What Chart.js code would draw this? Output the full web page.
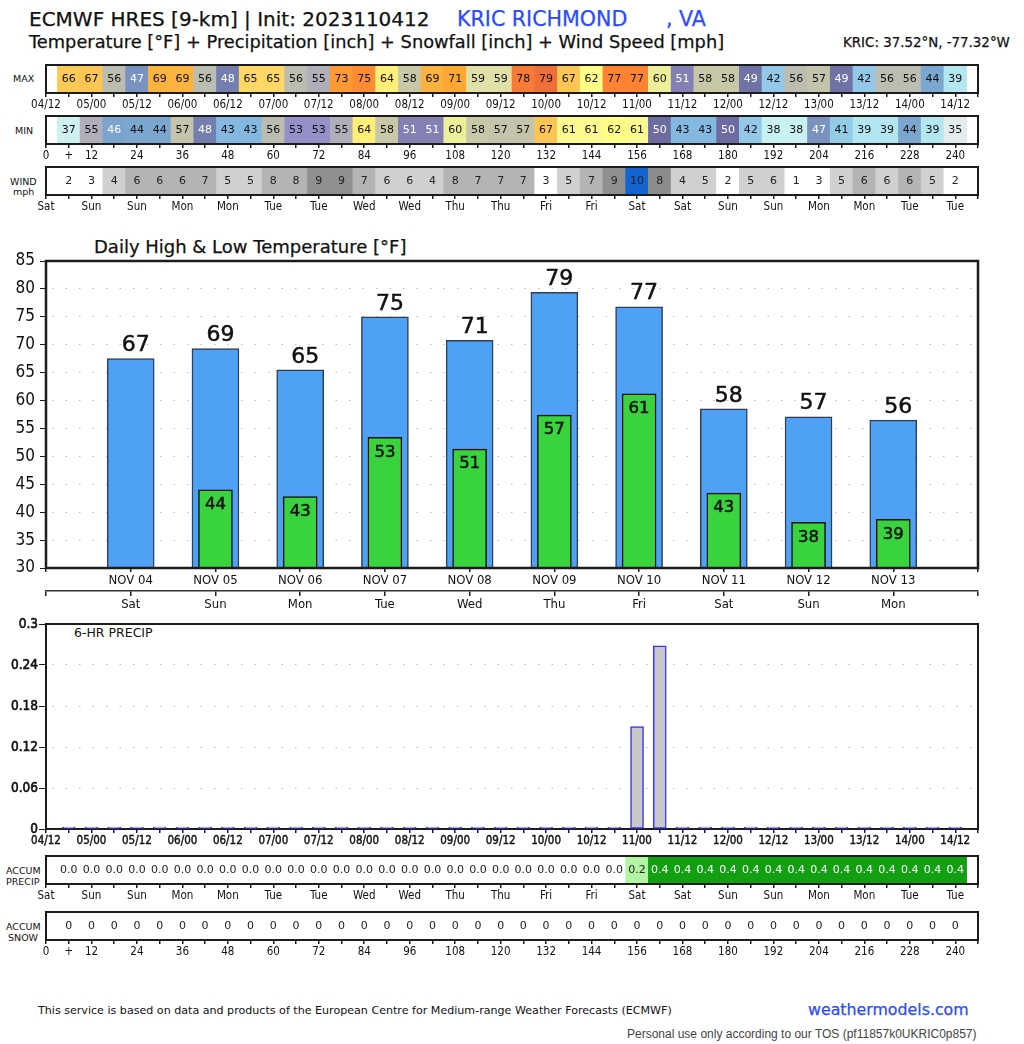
<!DOCTYPE html>
<html>
<head>
<meta charset="utf-8">
<title>ECMWF HRES KRIC</title>
<script src="https://cdn.jsdelivr.net/npm/chart.js@4"></script>
<style>
  html, body { margin: 0; padding: 0; background: #fff; }
  body { position: relative; width: 1024px; height: 1044px; overflow: hidden; font-family: "DejaVu Sans", sans-serif; color: #111; }
  canvas { position: absolute; left: 0; }
  .txt { position: absolute; white-space: pre; line-height: 1; -webkit-text-stroke: 0.25px currentColor; }
  .thin { -webkit-text-stroke: 0; }
  .blue { color: #2a4bff; }
</style>
</head>
<body>
<div class="txt" style="left:29px;top:9px;font-size:20px">ECMWF HRES [9-km] | Init: 2023110412</div>
<div class="txt blue" style="left:457px;top:9px;font-size:20.6px">KRIC RICHMOND</div>
<div class="txt blue" style="left:666px;top:9px;font-size:20.6px">, VA</div>
<div class="txt" style="left:29px;top:33px;font-size:17.8px">Temperature [°F] + Precipitation [inch] + Snowfall [inch] + Wind Speed [mph]</div>
<div class="txt" style="left:843px;top:36px;font-size:13.4px">KRIC: 37.52°N, -77.32°W</div>

<div class="txt thin" style="left:13px;top:74px;font-size:9.5px">MAX</div>
<div class="txt thin" style="left:15px;top:126px;font-size:9.5px">MIN</div>
<div class="txt thin" style="left:10px;top:177px;font-size:9.5px">WIND</div>
<div class="txt thin" style="left:13px;top:187px;font-size:9.5px">mph</div>
<div class="txt" style="left:94px;top:238px;font-size:18px">Daily High &amp; Low Temperature [°F]</div>
<div class="txt thin" style="left:74px;top:627px;font-size:12.5px">6-HR PRECIP</div>
<div class="txt thin" style="left:6px;top:866px;font-size:9.5px">ACCUM</div>
<div class="txt thin" style="left:6px;top:877px;font-size:9.5px">PRECIP</div>
<div class="txt thin" style="left:6px;top:922px;font-size:9.5px">ACCUM</div>
<div class="txt thin" style="left:8px;top:933px;font-size:9.5px">SNOW</div>
<div class="txt thin" style="left:38px;top:1005px;font-size:11.1px">This service is based on data and products of the European Centre for Medium-range Weather Forecasts (ECMWF)</div>
<div class="txt blue" style="left:808px;top:1002px;font-size:15.8px">weathermodels.com</div>
<div class="txt thin" style="left:627px;top:1028px;font-size:12px;font-family:'Liberation Sans';color:#444">Personal use only according to our TOS (pf11857k0UKRIC0p857)</div>

<script>
const stripHours = [6, 12, 18, 24, 30, 36, 42, 48, 54, 60, 66, 72, 78, 84, 90, 96, 102, 108, 114, 120,
  126, 132, 138, 144, 150, 156, 162, 168, 174, 180, 186, 192, 198, 204, 210, 216, 222, 228, 234, 240];

const maxTemps = [66, 67, 56, 47, 69, 69, 56, 48, 65, 65, 56, 55, 73, 75, 64, 58, 69, 71, 59, 59,
  78, 79, 67, 62, 77, 77, 60, 51, 58, 58, 49, 42, 56, 57, 49, 42, 56, 56, 44, 39];
const minTemps = [37, 55, 46, 44, 44, 57, 48, 43, 43, 56, 53, 53, 55, 64, 58, 51, 51, 60, 58, 57,
  57, 67, 61, 61, 62, 61, 50, 43, 43, 50, 42, 38, 38, 47, 41, 39, 39, 44, 39, 35];
const windSpeeds = [2, 3, 4, 6, 6, 6, 7, 5, 5, 8, 8, 9, 9, 7, 6, 6, 4, 8, 7, 7,
  7, 3, 5, 7, 9, 10, 8, 4, 5, 2, 5, 6, 1, 3, 5, 6, 6, 6, 5, 2];
const accumPrecip = [0, 0, 0, 0, 0, 0, 0, 0, 0, 0, 0, 0, 0, 0, 0, 0, 0, 0, 0, 0,
  0, 0, 0, 0, 0, 0.2, 0.4, 0.4, 0.4, 0.4, 0.4, 0.4, 0.4, 0.4, 0.4, 0.4, 0.4, 0.4, 0.4, 0.4];
const accumSnow = [0, 0, 0, 0, 0, 0, 0, 0, 0, 0, 0, 0, 0, 0, 0, 0, 0, 0, 0, 0,
  0, 0, 0, 0, 0, 0, 0, 0, 0, 0, 0, 0, 0, 0, 0, 0, 0, 0, 0, 0];
const precip6hr = [0, 0, 0, 0, 0, 0, 0, 0, 0, 0, 0, 0, 0, 0, 0, 0, 0, 0, 0, 0,
  0, 0, 0, 0, 0, 0.15, 0.268, 0, 0, 0, 0, 0, 0, 0, 0, 0, 0, 0, 0, 0];

const dateTicks = ['04/12', '05/00', '05/12', '06/00', '06/12', '07/00', '07/12', '08/00', '08/12', '09/00', '09/12',
  '10/00', '10/12', '11/00', '11/12', '12/00', '12/12', '13/00', '13/12', '14/00', '14/12'];
const leadTicks = ['0', '12', '24', '36', '48', '60', '72', '84', '96', '108', '120',
  '132', '144', '156', '168', '180', '192', '204', '216', '228', '240'];
const dayTicks = ['Sat', 'Sun', 'Sun', 'Mon', 'Mon', 'Tue', 'Tue', 'Wed', 'Wed', 'Thu', 'Thu',
  'Fri', 'Fri', 'Sat', 'Sat', 'Sun', 'Sun', 'Mon', 'Mon', 'Tue', 'Tue'];

const dayLabels = ['', 'NOV 04', 'NOV 05', 'NOV 06', 'NOV 07', 'NOV 08', 'NOV 09', 'NOV 10', 'NOV 11', 'NOV 12', 'NOV 13', ''];
const weekLabels = ['', 'Sat', 'Sun', 'Mon', 'Tue', 'Wed', 'Thu', 'Fri', 'Sat', 'Sun', 'Mon', ''];
const dailyHigh = [null, 67.5, 69.3, 65.5, 75, 70.8, 79.4, 76.8, 58.5, 57.1, 56.5, null];
const dailyLow = [null, null, 44, 42.8, 53.4, 51.3, 57.4, 61.2, 43.4, 38.2, 38.7, null];
const highLabels = ['', '67', '69', '65', '75', '71', '79', '77', '58', '57', '56', ''];
const lowLabels = ['', '', '44', '43', '53', '51', '57', '61', '43', '38', '39', ''];

const tempColors = {
  35: '#e2ecec', 37: '#cdf0f0', 38: '#c8f2f2', 39: '#b2e6f0', 41: '#94cce8', 42: '#94c8e8', 43: '#84b8e0',
  44: '#7aa6d0', 46: '#7aa4cc', 47: '#7a92bf', 48: '#747fb0', 49: '#6f74a4', 50: '#6c6ca0', 51: '#8480b4',
  53: '#9690c8', 55: '#b0aeba', 56: '#bcbcb0', 57: '#c4c4ac', 58: '#c8c8a8', 59: '#e0e0a8', 60: '#eef099',
  61: '#fafa90', 62: '#ffff88', 64: '#ffee77', 65: '#ffd766', 66: '#fdca57', 67: '#fdc654', 69: '#fbb23f',
  71: '#fca833', 73: '#ff9933', 75: '#ff8c33', 77: '#ff8333', 78: '#f77a37', 79: '#ee7038'
};
const windColors = ['#fff', '#fff', '#d0d0d0', '#b4b4b4', '#b4b4b4', '#b4b4b4', '#b4b4b4', '#d0d0d0', '#d0d0d0', '#b4b4b4',
  '#b4b4b4', '#909090', '#909090', '#b4b4b4', '#d0d0d0', '#d0d0d0', '#d0d0d0', '#b4b4b4', '#b4b4b4', '#b4b4b4',
  '#b4b4b4', '#fff', '#d0d0d0', '#b4b4b4', '#909090', '#1464d2', '#8c8c8c', '#d0d0d0', '#d0d0d0', '#fff',
  '#d0d0d0', '#d0d0d0', '#fff', '#fff', '#d0d0d0', '#b4b4b4', '#d0d0d0', '#b4b4b4', '#d0d0d0', '#fff'];

const TICK_FONT = '"DejaVu Sans Condensed", "DejaVu Sans"';
const FRAME_COLOR = '#1c1c1c';

function strokeFrame(chart, width) {
  const a = chart.chartArea, c = chart.ctx;
  c.save();
  c.strokeStyle = FRAME_COLOR;
  c.lineWidth = width || 2;
  c.strokeRect(a.left, a.top, a.right - a.left, a.bottom - a.top);
  c.restore();
}

// border round the plot, chart.js only gives one side per axis
const framePlugin = {
  id: 'frame',
  beforeDatasetsDraw(chart, args, opts) {
    if (opts.under) strokeFrame(chart, opts.width);
  },
  afterDraw(chart, args, opts) {
    if (!opts.under) strokeFrame(chart, opts.width);
  }
};

// numbers inside the heat strip cells
const cellTextPlugin = {
  id: 'cellText',
  afterDatasetsDraw(chart, args, opts) {
    const c = chart.ctx;
    const meta = chart.getDatasetMeta(0);
    c.save();
    c.font = '11px "DejaVu Sans"';
    c.textAlign = 'center';
    c.textBaseline = 'middle';
    meta.data.forEach((bar, i) => {
      c.fillStyle = opts.textColor(opts.values[i]);
      c.fillText(opts.format(opts.values[i]), bar.x, chart.chartArea.top + (chart.chartArea.bottom - chart.chartArea.top) / 2 + 0.5);
    });
    c.restore();
  }
};

function addCanvas(top, height) {
  const el = document.createElement('canvas');
  el.style.top = top + 'px';
  el.width = 1024;
  el.height = height;
  el.style.width = '1024px';
  el.style.height = height + 'px';
  document.body.appendChild(el);
  return el;
}

function hourAxis(labels, heavy) {
  return {
    type: 'linear',
    min: 0,
    max: 246,
    offset: false,
    border: { display: false },
    grid: { offset: false, drawOnChartArea: false, color: FRAME_COLOR, lineWidth: 1.5, tickLength: 4 },
    afterFit: (axis) => { axis.height = 28; },
    ticks: {
      stepSize: 6,
      autoSkip: false,
      maxRotation: 0,
      maxTicksLimit: 60,
      padding: 1,
      color: '#111',
      textStrokeColor: '#111',
      textStrokeWidth: heavy ? 0.4 : 0,
      font: { family: TICK_FONT, size: 11.5 },
      callback: (v, i) => {
        if (labels === leadTicks && i === 1) return '+';
        return i % 2 ? '' : labels[i / 2];
      }
    }
  };
}

function stripChart(top, values, colorOf, labels, textColor, format) {
  new Chart(addCanvas(top - 4, 60), {
    type: 'bar',
    data: {
      datasets: [{
        data: stripHours.map((h) => ({ x: h, y: 1 })),
        backgroundColor: (ctx) => colorOf(ctx.dataIndex),
        barPercentage: 1,
        categoryPercentage: 1
      }]
    },
    options: {
      responsive: false,
      animation: false,
      events: [],
      layout: { padding: { left: 46, right: 46, top: 4, bottom: 0 } },
      plugins: {
        legend: { display: false },
        tooltip: { enabled: false },
        cellText: { values: values, textColor: textColor, format: format }
      },
      scales: {
        x: hourAxis(labels, false),
        y: { display: false, min: 0, max: 1 }
      }
    },
    plugins: [framePlugin, cellTextPlugin]
  });
}

const whiteBelow = (v) => (v >= 46 && v <= 51 ? '#fff' : '#111');
const plain = (v) => String(v);

stripChart(65, maxTemps, (i) => tempColors[maxTemps[i]], dateTicks, whiteBelow, plain);
stripChart(116, minTemps, (i) => tempColors[minTemps[i]], leadTicks, whiteBelow, plain);
stripChart(167, windSpeeds, (i) => windColors[i], dayTicks, (v) => '#222', plain);
stripChart(856, accumPrecip, (i) => (accumPrecip[i] === 0 ? '#fff' : accumPrecip[i] < 0.3 ? '#b3f5a3' : '#12a012'),
  dayTicks, (v) => (v > 0.3 ? '#fff' : '#222'), (v) => v.toFixed(1));
stripChart(912, accumSnow, (i) => '#fff', leadTicks, (v) => '#222', plain);

// high / low values over the bars
const barValuePlugin = {
  id: 'barValues',
  afterDatasetsDraw(chart) {
    const c = chart.ctx;
    c.save();
    c.textAlign = 'center';
    c.textBaseline = 'middle';
    c.fillStyle = '#111';
    c.strokeStyle = '#111';
    c.lineWidth = 0.5;
    c.font = '22px "DejaVu Sans"';
    chart.getDatasetMeta(1).data.forEach((bar, i) => {
      if (!highLabels[i]) return;
      c.fillText(highLabels[i], bar.x + 5, bar.y - 13);
      c.strokeText(highLabels[i], bar.x + 5, bar.y - 13);
    });
    c.font = '16.5px "DejaVu Sans"';
    chart.getDatasetMeta(0).data.forEach((bar, i) => {
      if (!lowLabels[i]) return;
      c.fillText(lowLabels[i], bar.x, bar.y + 15);
      c.strokeText(lowLabels[i], bar.x, bar.y + 15);
    });
    c.restore();
  }
};

new Chart(addCanvas(241, 374), {
  type: 'bar',
  data: {
    labels: dayLabels,
    datasets: [
      { data: dailyLow, backgroundColor: '#39d33d', borderColor: '#111', borderWidth: 1.5, barThickness: 34, grouped: false },
      { data: dailyHigh, backgroundColor: '#4ea1f5', borderColor: '#2f3f52', borderWidth: 1.5, barThickness: 47, grouped: false }
    ]
  },
  options: {
    responsive: false,
    animation: false,
    events: [],
    layout: { padding: { left: 0, right: 46, top: 20, bottom: 0 } },
    plugins: { legend: { display: false }, tooltip: { enabled: false }, frame: { width: 2.5 } },
    scales: {
      x: {
        weight: 0,
        offset: false,
        border: { display: false },
        grid: { offset: false, drawOnChartArea: false, color: FRAME_COLOR, lineWidth: 1.5, tickLength: 4 },
        afterFit: (axis) => { axis.height = 23; },
        ticks: { autoSkip: false, maxRotation: 0, padding: 1, color: '#111', font: { family: TICK_FONT, size: 13 } }
      },
      x2: {
        type: 'category',
        labels: weekLabels,
        position: 'bottom',
        weight: 1,
        offset: false,
        border: { display: true, color: '#333', width: 1.5 },
        grid: { offset: false, drawOnChartArea: false, color: FRAME_COLOR, lineWidth: 1.5, tickLength: 5 },
        afterFit: (axis) => { axis.height = 24; },
        ticks: { autoSkip: false, maxRotation: 0, padding: 1, color: '#111', font: { family: TICK_FONT, size: 13 } }
      },
      y: {
        min: 30,
        max: 85,
        border: { display: false, dash: [1.5, 12], dashOffset: -6 },
        grid: { color: '#bdbdbd', lineWidth: 1, tickColor: FRAME_COLOR, tickLength: 6 },
        afterFit: (axis) => { axis.width = 46; },
        ticks: { stepSize: 5, padding: 5, color: '#111', font: { family: TICK_FONT, size: 17 } }
      }
    }
  },
  plugins: [framePlugin, barValuePlugin]
});

// 6 hour precip panel
new Chart(addCanvas(614, 236), {
  type: 'bar',
  data: {
    datasets: [{
      data: stripHours.map((h, i) => ({ x: h, y: precip6hr[i] })),
      backgroundColor: '#c8c8c8',
      borderColor: '#3333ff',
      borderWidth: 1.5,
      borderSkipped: false,
      barThickness: 13,
      minBarLength: 2,
      clip: false
    }]
  },
  options: {
    responsive: false,
    animation: false,
    events: [],
    layout: { padding: { left: 0, right: 46, top: 10, bottom: 0 } },
    plugins: { legend: { display: false }, tooltip: { enabled: false }, frame: { width: 2, under: true } },
    scales: {
      x: Object.assign(hourAxis(dateTicks, true), { afterFit: (axis) => { axis.height = 21; } }),
      y: {
        min: 0,
        max: 0.3,
        border: { display: false, dash: [1.5, 12], dashOffset: -6 },
        grid: { color: '#bdbdbd', lineWidth: 1, tickColor: FRAME_COLOR, tickLength: 7 },
        afterFit: (axis) => { axis.width = 46; },
        ticks: {
          stepSize: 0.06,
          padding: 1,
          color: '#111',
          textStrokeColor: '#111',
          textStrokeWidth: 0.6,
          font: { family: TICK_FONT, size: 13.5 },
          callback: (v) => String(+v.toFixed(2))
        }
      }
    }
  },
  plugins: [framePlugin]
});
</script>
</body>
</html>
